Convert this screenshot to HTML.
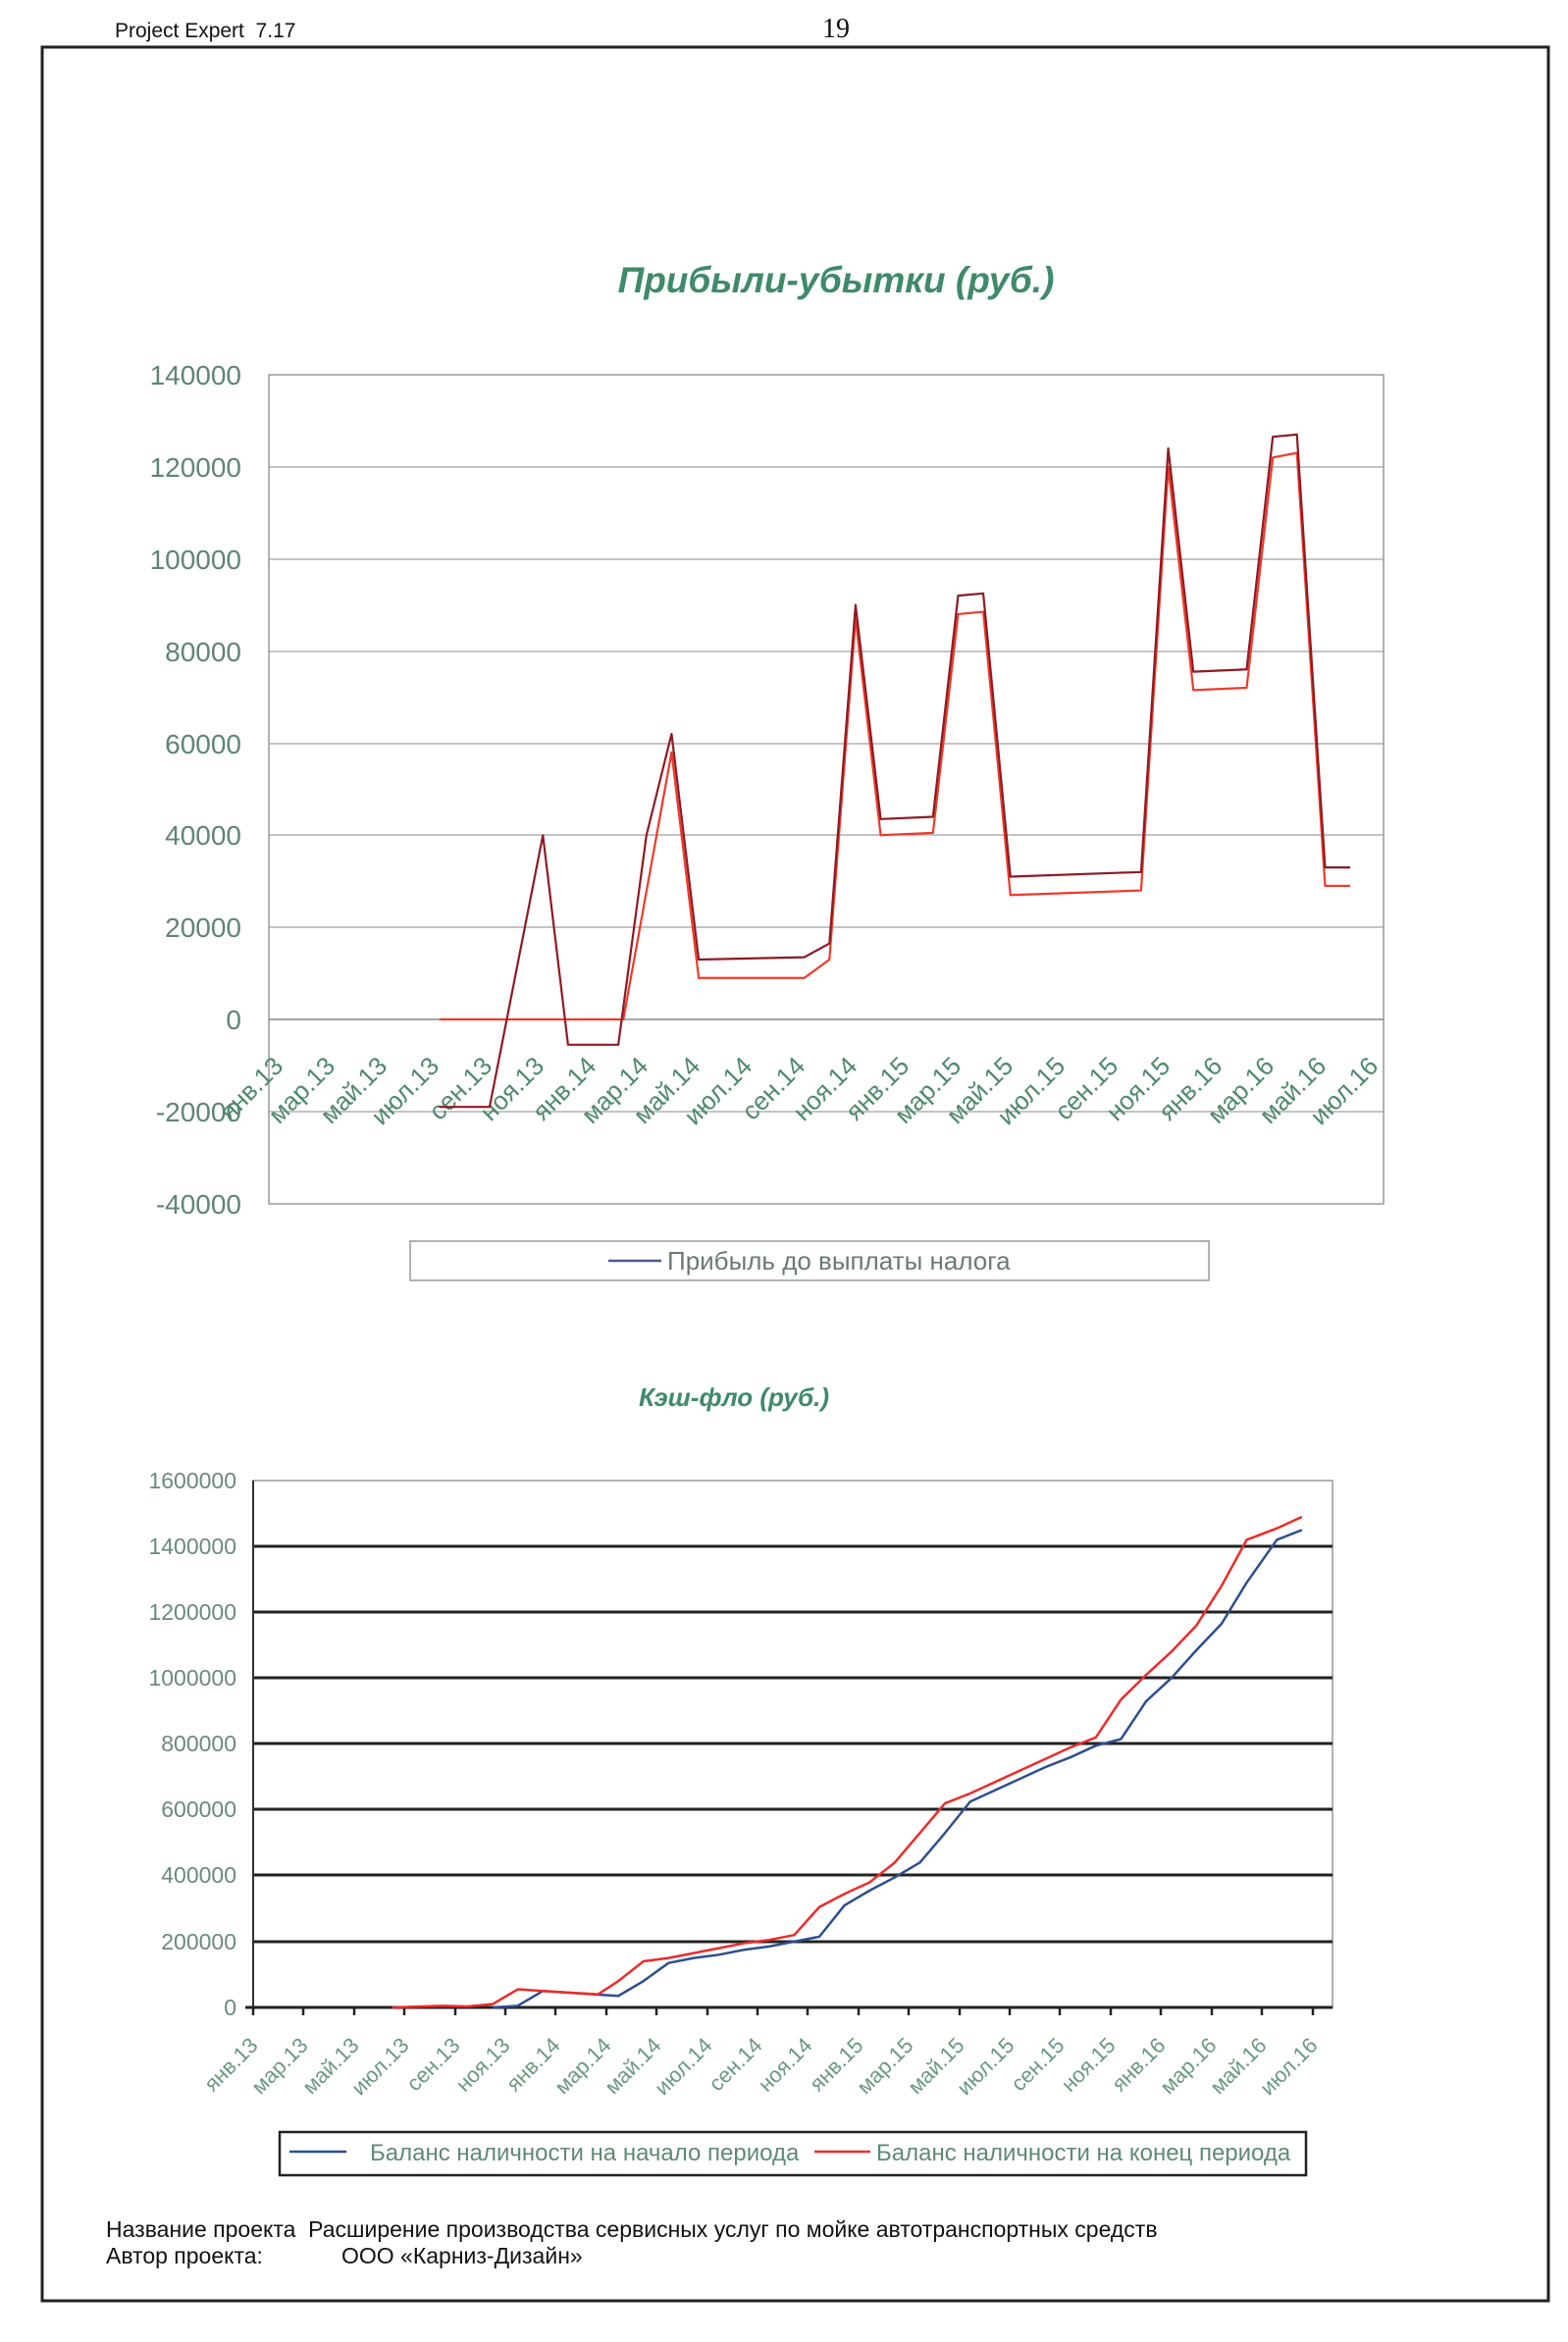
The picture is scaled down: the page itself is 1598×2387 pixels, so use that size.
<!DOCTYPE html>
<html><head><meta charset="utf-8"><style>
html,body{margin:0;padding:0;background:#fff;}
svg{display:block;}
</style></head><body>
<svg width="1598" height="2387" viewBox="0 0 1598 2387" xmlns="http://www.w3.org/2000/svg" font-family="Liberation Sans, sans-serif">
<rect width="1598" height="2387" fill="#fff"/>
<text x="117" y="38" font-size="21" fill="#111">Project Expert&#160;&#160;7.17</text>
<text x="852" y="38" font-size="28" fill="#111" font-family="Liberation Serif, serif" text-anchor="middle">19</text>
<rect x="43" y="48" width="1535" height="2297" fill="none" stroke="#222" stroke-width="3"/>

<!-- Chart 1 -->
<text x="852" y="298" font-size="37" font-weight="bold" font-style="italic" fill="#3f8a6a" text-anchor="middle">Прибыли-убытки (руб.)</text>
<g stroke="#a0a0a0" stroke-width="1.2">
<line x1="274" y1="476" x2="1410" y2="476"/><line x1="274" y1="570" x2="1410" y2="570"/>
<line x1="274" y1="664" x2="1410" y2="664"/><line x1="274" y1="758" x2="1410" y2="758"/>
<line x1="274" y1="851" x2="1410" y2="851"/><line x1="274" y1="945" x2="1410" y2="945"/>
<line x1="274" y1="1133" x2="1410" y2="1133"/>
</g>
<rect x="274" y="382" width="1136" height="845" fill="none" stroke="#999" stroke-width="1.5"/>
<line x1="274" y1="1039" x2="1410" y2="1039" stroke="#888" stroke-width="1.5"/>
<g fill="#5f8573" font-size="28" text-anchor="end">
<text x="246" y="392">140000</text><text x="246" y="486">120000</text><text x="246" y="580">100000</text>
<text x="246" y="674">80000</text><text x="246" y="768">60000</text><text x="246" y="861">40000</text>
<text x="246" y="955">20000</text><text x="246" y="1049">0</text><text x="246" y="1143">-20000</text>
<text x="246" y="1237">-40000</text>
</g>
<g fill="#4f8a6c" font-size="26" text-anchor="end">
<text transform="translate(290,1088) rotate(-45)">янв.13</text>
<text transform="translate(343,1088) rotate(-45)">мар.13</text>
<text transform="translate(396,1088) rotate(-45)">май.13</text>
<text transform="translate(449,1088) rotate(-45)">июл.13</text>
<text transform="translate(503,1088) rotate(-45)">сен.13</text>
<text transform="translate(556,1088) rotate(-45)">ноя.13</text>
<text transform="translate(609,1088) rotate(-45)">янв.14</text>
<text transform="translate(662,1088) rotate(-45)">мар.14</text>
<text transform="translate(715,1088) rotate(-45)">май.14</text>
<text transform="translate(768,1088) rotate(-45)">июл.14</text>
<text transform="translate(822,1088) rotate(-45)">сен.14</text>
<text transform="translate(875,1088) rotate(-45)">ноя.14</text>
<text transform="translate(928,1088) rotate(-45)">янв.15</text>
<text transform="translate(981,1088) rotate(-45)">мар.15</text>
<text transform="translate(1034,1088) rotate(-45)">май.15</text>
<text transform="translate(1087,1088) rotate(-45)">июл.15</text>
<text transform="translate(1141,1088) rotate(-45)">сен.15</text>
<text transform="translate(1194,1088) rotate(-45)">ноя.15</text>
<text transform="translate(1247,1088) rotate(-45)">янв.16</text>
<text transform="translate(1300,1088) rotate(-45)">мар.16</text>
<text transform="translate(1353,1088) rotate(-45)">май.16</text>
<text transform="translate(1406,1088) rotate(-45)">июл.16</text>
</g>
<g transform="translate(0,1039) scale(1.0246,-4.694)" fill="none" stroke-linejoin="round">
<polyline vector-effect="non-scaling-stroke" stroke="#ee3b2a" stroke-width="2.2" points="437,0 620,0 668,58 695,9 800,9 825,13 851,87 876,40 928,40.5 953,88 978,88.5 1005,27 1135,28 1162,120 1187,71.5 1240,72 1266,122 1290,123 1318,29 1343,29"/>
<polyline vector-effect="non-scaling-stroke" stroke="#8e1a22" stroke-width="2.2" points="437,-19 487,-19 540,40 565,-5.5 615,-5.5 643,40 668,62 695,13 800,13.5 825,16.5 851,90 876,43.5 928,44 953,92 978,92.5 1005,31 1135,32 1162,124 1187,75.5 1240,76 1266,126.5 1290,127 1318,33 1343,33"/>
</g>
<rect x="418" y="1265" width="814" height="40" fill="#fff" stroke="#999" stroke-width="1.5"/>
<line x1="620" y1="1285" x2="674" y2="1285" stroke="#4a5a8a" stroke-width="2.5"/>
<text x="680" y="1294" font-size="26" fill="#6a7a72">Прибыль до выплаты налога</text>

<!-- Chart 2 -->
<text x="748" y="1433" font-size="26" font-weight="bold" font-style="italic" fill="#3f8a6a" text-anchor="middle">Кэш-фло (руб.)</text>
<rect x="258" y="1509" width="1100" height="537" fill="none" stroke="#999" stroke-width="1.5"/>
<g stroke="#222" stroke-width="3">
<line x1="258" y1="1576" x2="1358" y2="1576"/><line x1="258" y1="1643" x2="1358" y2="1643"/>
<line x1="258" y1="1710" x2="1358" y2="1710"/><line x1="258" y1="1777" x2="1358" y2="1777"/>
<line x1="258" y1="1844" x2="1358" y2="1844"/><line x1="258" y1="1911" x2="1358" y2="1911"/>
<line x1="258" y1="1979" x2="1358" y2="1979"/>
</g>
<line x1="258" y1="1509" x2="258" y2="2046" stroke="#333" stroke-width="2"/>
<line x1="250" y1="2046" x2="1358" y2="2046" stroke="#222" stroke-width="3"/>
<g fill="#6a8a7a" font-size="23" text-anchor="end">
<text x="241" y="1517">1600000</text><text x="241" y="1584">1400000</text><text x="241" y="1651">1200000</text>
<text x="241" y="1718">1000000</text><text x="241" y="1785">800000</text><text x="241" y="1852">600000</text>
<text x="241" y="1919">400000</text><text x="241" y="1987">200000</text><text x="241" y="2054">0</text>
</g>
<g stroke="#222" stroke-width="2.5">
<line x1="258" y1="2046" x2="258" y2="2054"/><line x1="309" y1="2046" x2="309" y2="2054"/>
<line x1="361" y1="2046" x2="361" y2="2054"/><line x1="412" y1="2046" x2="412" y2="2054"/>
<line x1="464" y1="2046" x2="464" y2="2054"/><line x1="515" y1="2046" x2="515" y2="2054"/>
<line x1="566" y1="2046" x2="566" y2="2054"/><line x1="618" y1="2046" x2="618" y2="2054"/>
<line x1="669" y1="2046" x2="669" y2="2054"/><line x1="721" y1="2046" x2="721" y2="2054"/>
<line x1="772" y1="2046" x2="772" y2="2054"/><line x1="823" y1="2046" x2="823" y2="2054"/>
<line x1="875" y1="2046" x2="875" y2="2054"/><line x1="926" y1="2046" x2="926" y2="2054"/>
<line x1="978" y1="2046" x2="978" y2="2054"/><line x1="1029" y1="2046" x2="1029" y2="2054"/>
<line x1="1080" y1="2046" x2="1080" y2="2054"/><line x1="1132" y1="2046" x2="1132" y2="2054"/>
<line x1="1183" y1="2046" x2="1183" y2="2054"/><line x1="1235" y1="2046" x2="1235" y2="2054"/>
<line x1="1286" y1="2046" x2="1286" y2="2054"/><line x1="1338" y1="2046" x2="1338" y2="2054"/>
</g>
<g fill="#6a9a80" font-size="22" text-anchor="end">
<text transform="translate(264,2086) rotate(-45)">янв.13</text>
<text transform="translate(315,2086) rotate(-45)">мар.13</text>
<text transform="translate(367,2086) rotate(-45)">май.13</text>
<text transform="translate(418,2086) rotate(-45)">июл.13</text>
<text transform="translate(470,2086) rotate(-45)">сен.13</text>
<text transform="translate(521,2086) rotate(-45)">ноя.13</text>
<text transform="translate(572,2086) rotate(-45)">янв.14</text>
<text transform="translate(624,2086) rotate(-45)">мар.14</text>
<text transform="translate(675,2086) rotate(-45)">май.14</text>
<text transform="translate(727,2086) rotate(-45)">июл.14</text>
<text transform="translate(778,2086) rotate(-45)">сен.14</text>
<text transform="translate(829,2086) rotate(-45)">ноя.14</text>
<text transform="translate(881,2086) rotate(-45)">янв.15</text>
<text transform="translate(932,2086) rotate(-45)">мар.15</text>
<text transform="translate(984,2086) rotate(-45)">май.15</text>
<text transform="translate(1035,2086) rotate(-45)">июл.15</text>
<text transform="translate(1086,2086) rotate(-45)">сен.15</text>
<text transform="translate(1138,2086) rotate(-45)">ноя.15</text>
<text transform="translate(1189,2086) rotate(-45)">янв.16</text>
<text transform="translate(1241,2086) rotate(-45)">мар.16</text>
<text transform="translate(1292,2086) rotate(-45)">май.16</text>
<text transform="translate(1344,2086) rotate(-45)">июл.16</text>
</g>
<g transform="translate(0,2046) scale(1.0246,-0.3356)" fill="none" stroke-linejoin="round">
<polyline vector-effect="non-scaling-stroke" stroke="#2d4f8f" stroke-width="2.5" points="490,0 515,5 540,50 590,40 615,35 640,80 665,135 690,150 715,160 740,175 765,185 790,200 815,215 840,310 865,355 890,395 915,440 940,530 965,625 990,660 1015,695 1040,730 1065,760 1090,795 1115,815 1140,930 1165,1000 1190,1085 1215,1165 1240,1290 1270,1420 1295,1450"/>
<polyline vector-effect="non-scaling-stroke" stroke="#ee2a2a" stroke-width="2.5" points="390,0 440,5 465,3 490,10 515,55 540,50 565,45 595,40 615,80 640,140 665,150 690,165 715,180 740,195 765,205 790,220 815,305 840,345 865,380 890,440 915,530 940,620 965,650 990,685 1015,720 1040,755 1065,790 1090,820 1115,935 1140,1010 1165,1080 1190,1160 1215,1280 1240,1420 1270,1455 1295,1490"/>
</g>
<rect x="285" y="2173" width="1046" height="44" fill="#fff" stroke="#222" stroke-width="2.5"/>
<line x1="295" y1="2193" x2="353" y2="2193" stroke="#2d4f8f" stroke-width="2.5"/>
<text x="377" y="2202" font-size="24" fill="#5f8a74">Баланс наличности на начало периода</text>
<line x1="830" y1="2193" x2="887" y2="2193" stroke="#ee2a2a" stroke-width="2.5"/>
<text x="893" y="2202" font-size="24" fill="#5f8a74">Баланс наличности на конец периода</text>

<text x="108" y="2280" font-size="23" fill="#111">Название проекта&#160;&#160;Расширение производства сервисных услуг по мойке автотранспортных средств</text>
<text x="108" y="2307" font-size="23" fill="#111">Автор проекта:</text>
<text x="348" y="2307" font-size="23" fill="#111">ООО «Карниз-Дизайн»</text>
</svg>
</body></html>
